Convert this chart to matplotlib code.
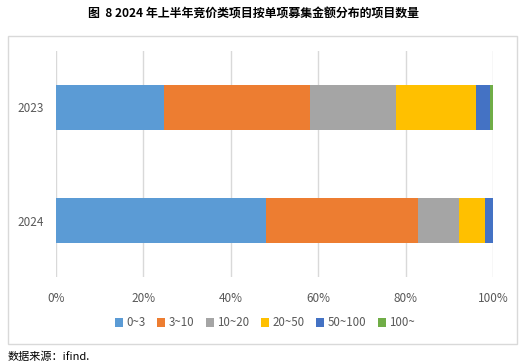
import numpy as np
import matplotlib.pyplot as plt
from matplotlib.patches import Rectangle

plt.rcParams['font.family'] = ['Noto Sans CJK SC', 'DejaVu Sans']

# Datos (porcentaje de proyectos por tramo de monto)
years = ["2024", "2023"]
tramos = ["0~3", "3~10", "10~20", "20~50", "50~100", "100~"]
valores = {
    "0~3": [48.1, 24.6],
    "3~10": [34.7, 33.5],
    "10~20": [9.5, 19.7],
    "20~50": [5.8, 18.4],
    "50~100": [1.9, 3.1],
    "100~": [0.0, 0.7],
}
colores = ["#5B9BD5", "#ED7D31", "#A5A5A5", "#FFC000", "#4472C4", "#70AD47"]

fig = plt.figure(figsize=(5.29, 3.64), dpi=100)
ax = fig.add_axes([56 / 529, 1 - 277 / 364, 437 / 529, 226 / 364])

# marco exterior del grafico
fig.patches.append(Rectangle((8 / 529, 1 - 344 / 364), 509 / 529, 308 / 364,
                             transform=fig.transFigure, fill=False,
                             edgecolor="#d9d9d9", linewidth=1))

y = np.arange(len(years))
izq = np.zeros(len(years))
for t, c in zip(tramos, colores):
    v = np.array(valores[t])
    ax.barh(y, v, left=izq, height=0.4, color=c, label=t, zorder=3)
    izq += v

ax.set_xlim(0, 100)
ax.set_ylim(-0.5, 1.5)
ax.set_xticks(np.arange(0, 101, 20))
ax.set_xticklabels([f"{p}%" for p in range(0, 101, 20)])
ax.set_yticks(y)
ax.set_yticklabels(years)
ax.xaxis.grid(True, color="#d9d9d9", linewidth=1, zorder=0)
for s in ax.spines.values():
    s.set_visible(False)
ax.tick_params(axis="both", length=0, colors="#595959", labelsize=8.5)
ax.tick_params(axis="x", pad=11)
ax.tick_params(axis="y", pad=9)

fig.legend(loc="center", bbox_to_anchor=(265 / 529, 1 - 323 / 364), ncol=6,
           frameon=False, fontsize=8.3, handlelength=0.7, handleheight=0.7,
           handletextpad=0.3, columnspacing=1.0, labelcolor="#595959")

fig.text(253 / 529, 1 - 13 / 364, "图  8 2024 年上半年竞价类项目按单项募集金额分布的项目数量",
         ha="center", va="center", fontsize=8.6, fontweight="bold")
fig.text(8 / 529, 1 - 357 / 364, "数据来源：ifind.", ha="left", va="center", fontsize=8)

fig.savefig("out.png", dpi=100)
